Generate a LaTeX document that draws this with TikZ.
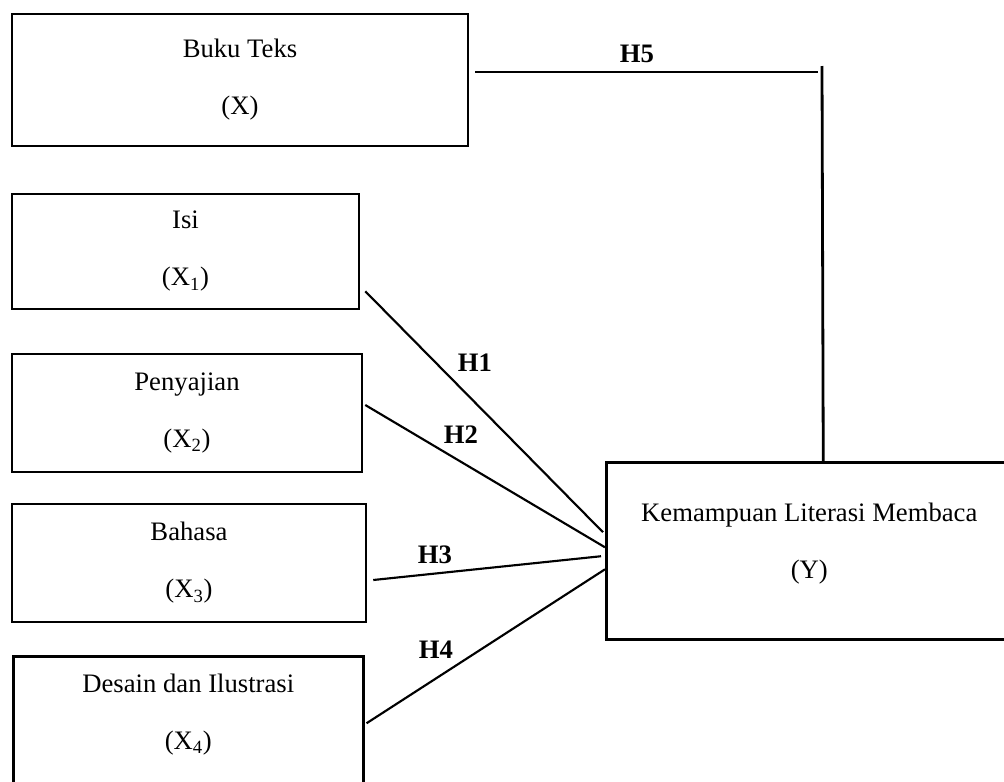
\documentclass[tikz,border=0pt]{standalone}
\usepackage{fontspec}
\setmainfont{Liberation Serif}
\usetikzlibrary{calc}
\begin{document}
\begin{tikzpicture}[x=0.75pt,y=-0.75pt,
  box/.style={draw, line width=1.9pt, rectangle, align=center, inner sep=0pt,
    font=\fontsize{20}{42.75}\selectfont},
  boxtext/.style={font=\fontsize{20}{42.75}\selectfont, align=center, inner sep=0pt, anchor=north},
  link/.style={line width=1.6pt},
  hlab/.style={font=\fontsize{20}{24}\selectfont\bfseries, inner sep=0pt}]
\clip (0,0) rectangle (1004,782);
\fill[white] (0,0) rectangle (1004,782);

% boxes
\node[box, minimum width=456*0.75pt, minimum height=132*0.75pt] (buku) at (240,80) {Buku Teks\\(X)};
\node[box, minimum width=347*0.75pt, minimum height=115*0.75pt] (isi) at (185.5,251.5) {Isi\\(X\textsubscript{1})};
\node[box, minimum width=350*0.75pt, minimum height=118*0.75pt] (penyajian) at (187,413) {Penyajian\\(X\textsubscript{2})};
\node[box, minimum width=354*0.75pt, minimum height=118*0.75pt] (bahasa) at (189,563) {Bahasa\\(X\textsubscript{3})};
\node[box, anchor=north west, minimum width=350*0.75pt, minimum height=160*0.75pt,
  label={[boxtext, yshift=-13.8pt]north:{Desain dan Ilustrasi\\(X\textsubscript{4})}}] (desain) at (12,655) {};
\node[box, anchor=north west, minimum width=406*0.75pt, minimum height=177*0.75pt,
  label={[boxtext, yshift=-31pt]north:{Kemampuan Literasi Membaca\\(Y)}}] (kem) at (605,461) {};

% connectors
\draw[link] ([xshift=5*0.75pt, yshift=14.25pt]isi.south east) -- ([xshift=-1.5pt, yshift=13.9pt]kem.west);
\node[hlab] (h1) at (475,363) {H1};
\draw[link] ([xshift=1.5pt, yshift=6pt]penyajian.east) -- ([yshift=2.6pt]kem.west);
\node[hlab] (h2) at (461,435) {H2};
\draw[link] ([xshift=4.5pt, yshift=-12.75pt]bahasa.east) -- ([xshift=-3pt, yshift=-4.1pt]kem.west);
\node[hlab] (h3) at (435,555) {H3};
\draw[link] ([xshift=1.5pt, yshift=9.75pt]desain.east) -- ([yshift=-13.9pt]kem.west);
\node[hlab] (h4) at (436,650) {H4};

\coordinate (h5a) at (818,72);
\coordinate (h5b) at (822,66);
\draw[link] ([xshift=4.5pt, yshift=6pt]buku.east) -- (h5a);
\draw[line width=2.1pt] (h5b) -- ([xshift=14*0.75pt]kem.north);
\node[hlab] (h5) at (637,54) {H5};
\end{tikzpicture}
\end{document}
